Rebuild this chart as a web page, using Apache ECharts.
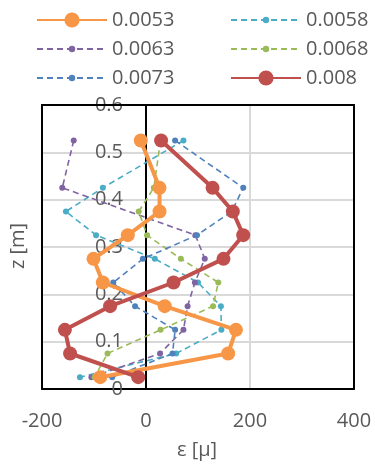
<!DOCTYPE html>
<html>
<head>
<meta charset="utf-8">
<script src="https://cdn.jsdelivr.net/npm/echarts@6/dist/echarts.min.js"></script>
<style>
html,body{margin:0;padding:0;background:#fff;}
#c{width:375px;height:466px;}
</style>
</head>
<body>
<div id="c"></div>
<script>
// z levels [m]
const zLevels = [0.525, 0.425, 0.375, 0.325, 0.275, 0.225, 0.175, 0.125, 0.075, 0.025];
// strain values [μ] per series, same order as zLevels (null = no point)
const s0053 = [-10, 26, 26, -35, -101, -83, 36, 173, 158, -88];
const s0058 = [72, -83, -154, -96, 17, 100, 144, 145, 58, -127];
const s0063 = [-139, -161, null, 95, 113, 94, 80, 72, 27, -105];
const s0068 = [28, 15, -14, 2, 67, 139, 129, 28, -74, -99];
const s0073 = [56, 187, 165, 98, -6, -63, -21, 56, 51, -65];
const s008  = [29, 128, 167, 187, 149, 53, -69, -156, -146, -15];
const seriesNames = ['0.0053', '0.0058', '0.0063', '0.0068', '0.0073', '0.008'];
const xTicks = [-200, 0, 200, 400];

const FONT = '"Open Sans", "DejaVu Sans", sans-serif';
const TXT = '#595959';

function pairs(vals) {
  const out = [];
  vals.forEach((v, i) => { if (v !== null) out.push([v, zLevels[i]]); });
  return out;
}
function solid(name, vals, color) {
  return {
    name, type: 'line', data: pairs(vals), symbol: 'circle', symbolSize: 14,
    lineStyle: { color, width: 4 }, itemStyle: { color }, z: 3
  };
}
function dashed(name, vals, color) {
  return {
    name, type: 'line', data: pairs(vals), symbol: 'circle', symbolSize: 6,
    lineStyle: { color, width: 1.6, type: [6, 4] }, itemStyle: { color }, z: 2
  };
}
function legendItem(name, left, center, big) {
  const ih = big ? 19 : 8;
  return {
    data: [name], left, top: center - 11, padding: 0,
    itemWidth: 70, itemHeight: ih,
    textStyle: { fontSize: 20, color: TXT, fontFamily: FONT, lineHeight: 22 }
  };
}
const frameLine = { show: true, onZero: false, lineStyle: { color: '#000', width: 2 } };
function frameAxis(extra) {
  return Object.assign({
    type: 'value', axisLine: frameLine, axisTick: { show: false },
    axisLabel: { show: false }, splitLine: { show: false }, z: 5
  }, extra);
}

const chart = echarts.init(document.getElementById('c'), null, { renderer: 'canvas' });
chart.setOption({
  animation: false,
  backgroundColor: '#fff',
  legend: [
    legendItem(seriesNames[0], 36, 20, true),
    legendItem(seriesNames[1], 230, 20, false),
    legendItem(seriesNames[2], 36, 49, false),
    legendItem(seriesNames[3], 230, 49, false),
    legendItem(seriesNames[4], 36, 78, false),
    legendItem(seriesNames[5], 230, 78, true)
  ],
  grid: { left: 42, top: 105, width: 312, height: 284, containLabel: false, outerBoundsMode: 'none' },
  xAxis: [{
    type: 'value', min: xTicks[0], max: xTicks[xTicks.length - 1], interval: 200,
    axisLine: { lineStyle: { color: '#000', width: 2 } },
    axisTick: { show: false },
    splitLine: { lineStyle: { color: '#d9d9d9', width: 2 } },
    axisLabel: { color: TXT, fontSize: 20, fontFamily: FONT, margin: 22 }
  }, frameAxis({ position: 'top', min: xTicks[0], max: xTicks[xTicks.length - 1] })],
  yAxis: [{
    type: 'value', min: 0, max: 0.6, interval: 0.1,
    offset: -104,
    axisLine: { onZero: false, lineStyle: { color: '#000', width: 2 } },
    axisTick: { show: false },
    splitLine: { lineStyle: { color: '#d9d9d9', width: 2 } },
    axisLabel: { color: TXT, fontSize: 20, fontFamily: FONT, margin: 23 }
  }, frameAxis({ position: 'left', min: 0, max: 0.6 }),
     frameAxis({ position: 'right', min: 0, max: 0.6 })],
  graphic: [
    { type: 'text', x: 197, y: 450, style: { text: 'ε [μ]', fill: TXT, font: '20px ' + FONT, textAlign: 'center', textVerticalAlign: 'middle' } },
    { type: 'text', x: 18, y: 246, rotation: Math.PI / 2, style: { text: 'z [m]', fill: TXT, font: '20px ' + FONT, textAlign: 'center', textVerticalAlign: 'middle' } }
  ],
  series: [
    solid(seriesNames[0], s0053, '#F79646'),
    dashed(seriesNames[1], s0058, '#4BACC6'),
    dashed(seriesNames[2], s0063, '#8064A2'),
    dashed(seriesNames[3], s0068, '#9BBB59'),
    dashed(seriesNames[4], s0073, '#4F81BD'),
    solid(seriesNames[5], s008, '#C0504D')
  ]
});
</script>
</body>
</html>
